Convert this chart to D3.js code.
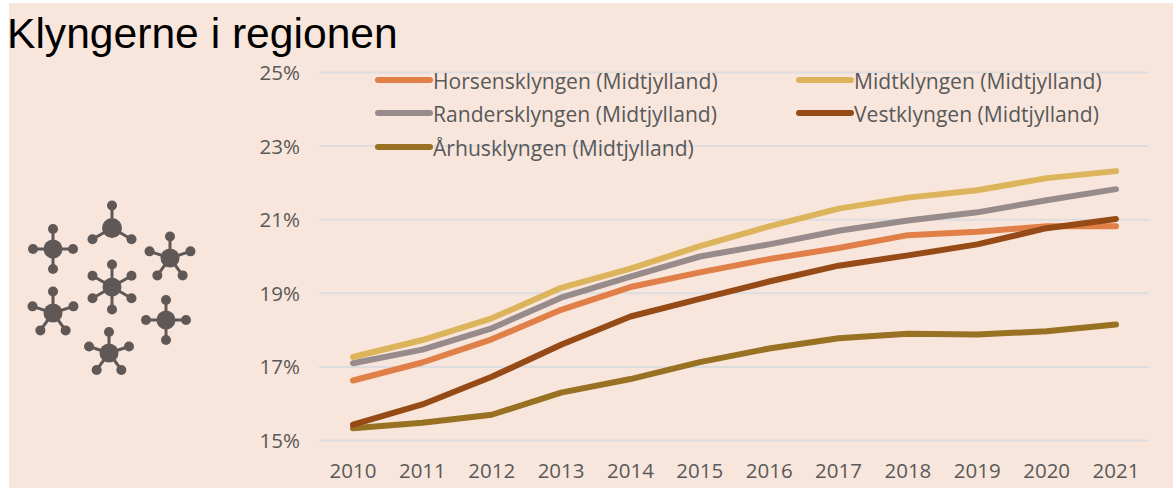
<!DOCTYPE html>
<html><head><meta charset="utf-8">
<script src="https://cdn.jsdelivr.net/npm/d3@7"></script>
<style>html,body{margin:0;padding:0;background:#fff}svg{display:block}text{font-family:"Open Sans",Calibri,sans-serif}</style>
</head><body><svg id="c" width="1173" height="488"></svg>
<script>
const years=[2010,2011,2012,2013,2014,2015,2016,2017,2018,2019,2020,2021];
const yTicks=[15,17,19,21,23,25];
const horsens=[16.63,17.12,17.75,18.55,19.17,19.57,19.93,20.23,20.58,20.67,20.82,20.82];
const midt=[17.27,17.73,18.32,19.15,19.67,20.28,20.82,21.3,21.6,21.8,22.13,22.32];
const randers=[17.1,17.47,18.05,18.88,19.45,20.0,20.33,20.7,20.98,21.2,21.53,21.83];
const vest=[15.43,15.98,16.73,17.6,18.37,18.85,19.32,19.75,20.03,20.33,20.77,21.02];
const aarhus=[15.33,15.48,15.7,16.3,16.67,17.13,17.5,17.78,17.9,17.88,17.97,18.15];
const names=["Horsensklyngen (Midtjylland)","Midtklyngen (Midtjylland)","Randersklyngen (Midtjylland)","Vestklyngen (Midtjylland)","Århusklyngen (Midtjylland)"];
const colors=["#e07f48","#dcb45c","#978b8b","#964a16","#987123"];
const seriesValues=[horsens,midt,randers,vest,aarhus];
const drawOrder=[4,0,2,1,3];
const clusters=[[53,249,4,20],[112,228,3,22.5],[170,258,5,21.5],[112,287,6,22.5],[53,313,5,21.5],[166,320,4,20],[109,353,5,21]];
const svg=d3.select("#c");
svg.append("rect").attr("x",9).attr("y",3).attr("width",1164).attr("height",485).attr("fill","#f8e6dc");
const x=d3.scalePoint().domain(years).range([353,1116]);
const y=d3.scaleLinear().domain([15,25]).range([440.5,72.5]);
svg.append("g").selectAll("line").data(yTicks).join("line")
 .attr("x1",319).attr("x2",1149).attr("y1",d=>y(d)).attr("y2",d=>y(d))
 .attr("stroke","#dddddf").attr("stroke-width",2);
svg.append("g").selectAll("text").data(yTicks).join("text")
 .attr("x",300).attr("y",d=>y(d)+7.5).attr("text-anchor","end").attr("font-size",20.5).attr("fill","#595959").text(d=>d+"%");
svg.append("g").selectAll("text").data(years).join("text")
 .attr("x",d=>x(d)).attr("y",478).attr("text-anchor","middle").attr("font-size",20.5).attr("fill","#595959").text(d=>d);
const line=d3.line().x((d,i)=>x(years[i])).y(d=>y(d));
drawOrder.forEach(k=>svg.append("path").attr("d",line(seriesValues[k])).attr("fill","none")
 .attr("stroke",colors[k]).attr("stroke-width",6).attr("stroke-linecap","round").attr("stroke-linejoin","round"));
const legX=[377,798,377,798,377],legY=[81,81,114,114,148];
names.forEach((n,i)=>{
 svg.append("line").attr("x1",legX[i]+1).attr("x2",legX[i]+53).attr("y1",legY[i]-1).attr("y2",legY[i]-1)
  .attr("stroke",colors[i]).attr("stroke-width",6).attr("stroke-linecap","round");
 svg.append("text").attr("x",legX[i]+56).attr("y",legY[i]+8).attr("font-size",21.1).attr("fill","#595959").text(n);
});
svg.append("text").attr("x",7).attr("y",48).attr("font-size",42.6).attr("fill","#000").style("font-family","'Liberation Sans',Arial,sans-serif").text("Klyngerne i regionen");
const ic=svg.append("g").attr("fill","#5f5857").attr("stroke","#5f5857");
clusters.forEach(([cx,cy,n,len])=>{
 ic.append("circle").attr("cx",cx).attr("cy",cy).attr("r",n==3?10:9.5).attr("stroke","none");
 d3.range(n).forEach(i=>{
  const a=-Math.PI/2+i*2*Math.PI/n,px=cx+len*Math.cos(a),py=cy+len*Math.sin(a);
  ic.append("line").attr("x1",cx).attr("y1",cy).attr("x2",px).attr("y2",py).attr("stroke-width",3);
  ic.append("circle").attr("cx",px).attr("cy",py).attr("r",5).attr("stroke","none");
 });
});
</script></body></html>
